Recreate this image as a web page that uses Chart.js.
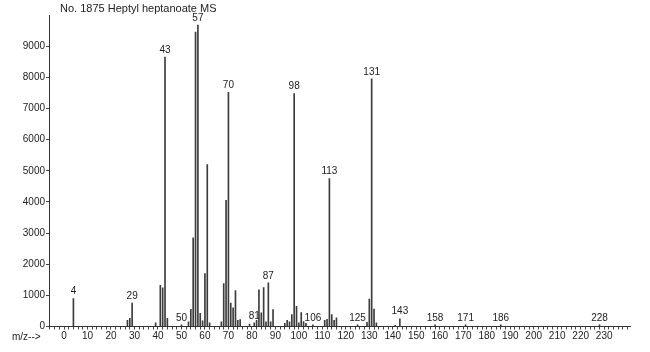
<!DOCTYPE html>
<html>
<head>
<meta charset="utf-8">
<script src="https://cdn.jsdelivr.net/npm/chart.js@4.4.1/dist/chart.umd.min.js"></script>
<style>
  html, body { margin: 0; padding: 0; background: #fff; }
  #wrap { width: 650px; height: 352px; }
</style>
</head>
<body>
<div id="wrap"><canvas id="ms" width="650" height="352"></canvas></div>
<script>
var titleText = "No. 1875 Heptyl heptanoate MS";

// m/z values and their intensities
var mz = [4, 27, 28, 29, 39, 41, 42, 43, 44, 50,
          53, 54, 55, 56, 57, 58, 59, 60, 61, 62,
          67, 68, 69, 70, 71, 72, 73, 74, 75,
          79, 81, 82, 83, 84, 85, 86, 87, 88, 89,
          94, 95, 96, 97, 98, 99, 100, 101, 102, 103, 106,
          111, 112, 113, 114, 115, 116,
          125, 129, 130, 131, 132, 133, 141, 143,
          158, 171, 186, 228];
var intensity = [900, 200, 260, 750, 120, 1320, 1240, 8650, 260, 50,
                 150, 550, 2850, 9450, 9680, 420, 180, 1700, 5200, 120,
                 150, 1380, 4050, 7520, 750, 600, 1150, 200, 220,
                 80, 120, 200, 1180, 440, 1250, 150, 1400, 150, 540,
                 100, 200, 150, 380, 7480, 650, 120, 450, 160, 100, 50,
                 200, 230, 4750, 380, 200, 280,
                 50, 130, 880, 7950, 560, 120, 40, 250,
                 50, 50, 50, 50];

// peaks that carry a number above them
var labeledPeaks = [4, 29, 43, 50, 57, 70, 81, 87, 98, 106, 113, 125, 131, 143, 158, 171, 186, 228];

var xTickStep = 2;
var xLabelStep = 10;
var yTickStep = 1000;

var peakLabels = {
  id: 'peakLabels',
  afterDatasetsDraw: function(chart) {
    var ctx = chart.ctx;
    var xs = chart.scales.x, ys = chart.scales.y;
    ctx.save();
    ctx.fillStyle = '#222';
    ctx.font = '10px "Liberation Sans", Arial, sans-serif';
    ctx.textAlign = 'center';
    ctx.textBaseline = 'bottom';
    labeledPeaks.forEach(function(m) {
      var i = mz.indexOf(m);
      ctx.fillText(String(m), xs.getPixelForValue(m), ys.getPixelForValue(intensity[i]) - 2);
    });
    // title and axis caption
    ctx.textAlign = 'left';
    ctx.textBaseline = 'alphabetic';
    ctx.font = '11px "Liberation Sans", Arial, sans-serif';
    ctx.fillText(titleText, 60, 12);
    ctx.font = '10px "Liberation Sans", Arial, sans-serif';
    ctx.textBaseline = 'middle';
    ctx.fillText("m/z-->", 12, 337);
    ctx.restore();
  }
};

var points = mz.map(function(m, i) { return { x: m, y: intensity[i] }; });

var ctx = document.getElementById('ms').getContext('2d');
var chart = new Chart(ctx, {
  type: 'bar',
  data: {
    datasets: [{
      data: points,
      backgroundColor: '#3c3c3c',
      borderWidth: 0,
      barThickness: 1
    }]
  },
  options: {
    responsive: false,
    animation: false,
    layout: { padding: { top: 15, right: 20, left: 0, bottom: 0 } },
    plugins: {
      legend: { display: false },
      tooltip: { enabled: false },
      title: { display: false }
    },
    scales: {
      x: {
        type: 'linear',
        min: -6.4,
        max: 241,
        offset: false,
        grid: { drawOnChartArea: false, drawTicks: true, tickLength: 3, color: '#444', offset: false },
        border: { color: '#333', width: 1 },
        afterBuildTicks: function(s) {
          var t = [];
          for (var v = -6; v <= 240; v += xTickStep) t.push({ value: v });
          s.ticks = t;
        },
        afterFit: function(s) { s.height = 25.5; },
        ticks: {
          autoSkip: false,
          maxRotation: 0,
          padding: 1,
          color: '#222',
          font: { family: '"Liberation Sans", Arial, sans-serif', size: 10 },
          callback: function(v) {
            return (v % xLabelStep === 0 && v >= 0 && v <= 230) ? String(v) : '';
          }
        }
      },
      y: {
        min: 0,
        max: 10000,
        grid: { drawOnChartArea: false, drawTicks: true, tickLength: 3, color: '#444' },
        border: { color: '#333', width: 1 },
        afterBuildTicks: function(s) {
          s.ticks = s.ticks.filter(function(t) { return t.value <= 9000; });
        },
        afterFit: function(s) { s.width = 49; },
        ticks: {
          stepSize: yTickStep,
          padding: 1,
          color: '#222',
          font: { family: '"Liberation Sans", Arial, sans-serif', size: 10 },
          callback: function(v) { return String(v); }
        }
      }
    }
  },
  plugins: [peakLabels]
});
</script>
</body>
</html>
